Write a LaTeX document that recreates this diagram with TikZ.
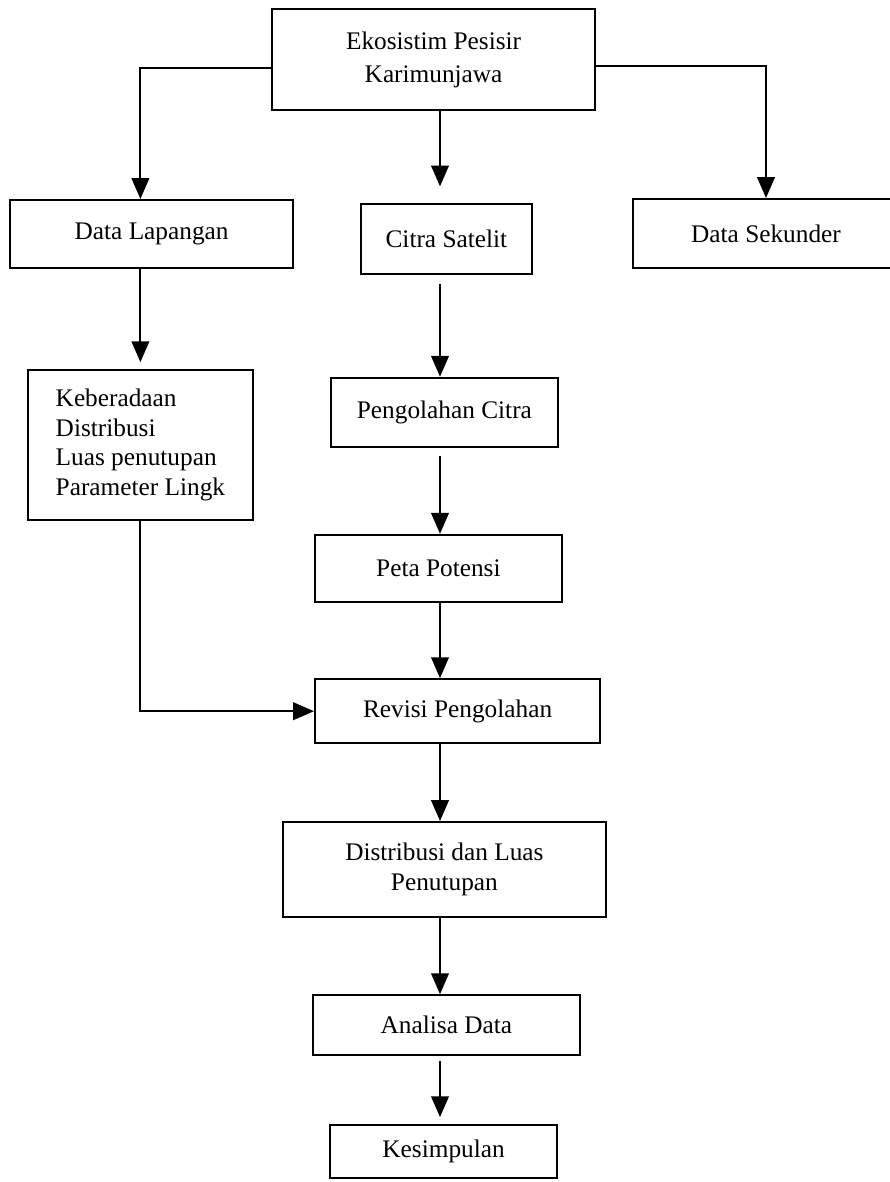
\documentclass[tikz,border=0pt]{standalone}
\usepackage{fontspec}
\setmainfont{Liberation Serif}
\usetikzlibrary{arrows.meta,positioning,calc}

\begin{document}
\begin{tikzpicture}[
    font=\fontsize{18}{21}\selectfont,
    % Box style for the flow steps
    box/.style={rectangle, draw=black, line width=1.5pt, align=center, inner sep=2pt},
    % Arrow style
    arr/.style={-{Triangle[length=5.2mm, width=4.4mm]}, line width=1.4pt}
]
    \useasboundingbox (0,0) rectangle (22.25,-29.55);
    \fill[white] (0,0) rectangle (22.25,-29.55);

    % column of the main arrows
    \coordinate (col) at (11,0);

    % --- TOP ---
    \node[box, minimum width=8.08cm, minimum height=2.53cm, font=\fontsize{18}{23.5}\selectfont] (eko) at (10.84,-1.49) {Ekosistim Pesisir\\Karimunjawa};

    % --- DATA SOURCES ---
    \node[box, minimum width=7.08cm, minimum height=1.70cm] (lap) at (3.79,-5.85) {Data Lapangan};
    \node[box, minimum width=4.28cm, minimum height=1.75cm] (cit) at (11.16,-5.98) {Citra Satelit};
    \node[box, minimum width=6.65cm, minimum height=1.73cm] (sek) at (19.15,-5.84) {Data Sekunder};

    % --- LEFT COLUMN (field data) ---
    \node[box, align=left, minimum width=5.63cm, minimum height=3.75cm] (keb) at (3.51,-11.125) {Keberadaan\\Distribusi\\Luas penutupan\\Parameter Lingk};

    % --- MIDDLE COLUMN (image) ---
    \node[box, minimum width=5.68cm, minimum height=1.73cm] (pgc) at (11.11,-10.31) {Pengolahan Citra};
    \node[box, minimum width=6.18cm, minimum height=1.68cm] (pet) at (10.96,-14.21) {Peta Potensi};
    \node[box, minimum width=7.13cm, minimum height=1.60cm] (rev) at (11.44,-17.78) {Revisi Pengolahan};
    \node[box, minimum width=8.08cm, minimum height=2.38cm] (dis) at (11.11,-21.74) {Distribusi dan Luas\\Penutupan};
    \node[box, minimum width=6.68cm, minimum height=1.50cm] (ana) at (11.16,-25.63) {Analisa Data};
    \node[box, minimum width=5.68cm, minimum height=1.33cm] (kes) at (11.09,-28.79) {Kesimpulan};

    % --- ARROWS ---
    \draw[arr] ([yshift=-2mm]eko.west) -| (keb.north |- lap.north);
    \draw[arr] ([yshift=-1.6mm]eko.east) -| (sek.north);
    \draw[arr, shorten >=4.2mm] (col |- eko.south) -- (col |- cit.north);
    \draw[arr, shorten <=2.2mm] (col |- cit.south) -- (col |- pgc.north);
    \draw[arr, shorten <=2mm] (col |- pgc.south) -- (col |- pet.north);
    \draw[arr] (col |- pet.south) -- (col |- rev.north);
    \draw[arr] (col |- rev.south) -- (col |- dis.north);
    \draw[arr] (col |- dis.south) -- (col |- ana.north);
    \draw[arr, shorten <=1.2mm, shorten >=1.7mm] (col |- ana.south) -- (col |- kes.north);
    \draw[arr, shorten >=1.7mm] (lap.south -| keb.north) -- (keb.north);
    \draw[arr] (keb.south) |- (rev.west);

\end{tikzpicture}
\end{document}
